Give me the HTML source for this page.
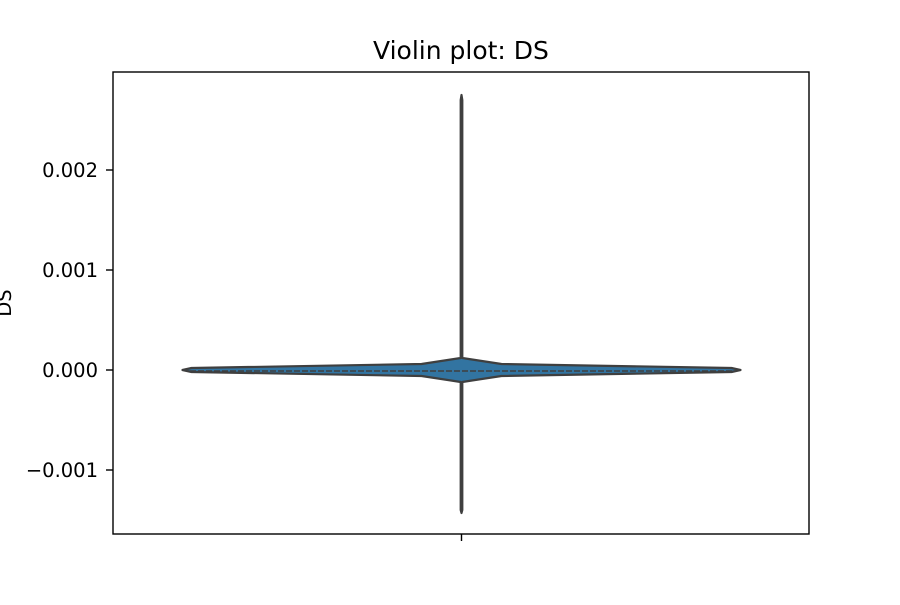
<!DOCTYPE html>
<html><head><meta charset="utf-8"><style>
body{margin:0;background:#fff;}
svg text{font-family:"DejaVu Sans","Liberation Sans",sans-serif;}
</style></head><body>
<svg width="900" height="600">
<rect width="900" height="600" fill="#fff"/>
<text x="461" y="59" style="font-size:25px" text-anchor="middle">Violin plot: DS</text>
<g id="plot"></g>
<rect x="113" y="72" width="696" height="462" fill="none" stroke="#000" stroke-width="1.4"/>
<g id="axes"></g>
<text transform="translate(11,303) rotate(-90)" style="font-size:19.5px" text-anchor="middle">DS</text>
</svg>
<script>
const yTicks=[0.002,0.001,0.000,-0.001];
const yTickLabels=["0.002","0.001","0.000","\u22120.001"];
const densVals=[0.00275,0.0027,0.00012,0.00006,0.00002,0.0,-0.00002,-0.00006,-0.00012,-0.0014,-0.00143];
const densHalf=[0,0.8,0.8,40,270,279,270,40,0.8,0.8,0];
const quartiles=[-0.00001];
const NS="http://www.w3.org/2000/svg";
const y=v=>370-v*100000;
const cx=461.5;
const plot=document.getElementById('plot'), axes=document.getElementById('axes');
let pts=[];
densVals.forEach((v,i)=>pts.push((cx+densHalf[i])+','+y(v)));
for(let i=densVals.length-1;i>=0;i--)pts.push((cx-densHalf[i])+','+y(densVals[i]));
const poly=document.createElementNS(NS,'polygon');
poly.setAttribute('points',pts.join(' '));
poly.setAttribute('fill','#3274a1');poly.setAttribute('stroke','#3f3f3f');poly.setAttribute('stroke-width','2.2');poly.setAttribute('stroke-linejoin','round');


plot.appendChild(poly);
quartiles.forEach(q=>{
 const l=document.createElementNS(NS,'line');
 l.setAttribute('x1',190);l.setAttribute('x2',733);l.setAttribute('y1',y(q));l.setAttribute('y2',y(q));
 l.setAttribute('stroke','#3f3f3f');l.setAttribute('stroke-width','1.5');l.setAttribute('stroke-dasharray','6 2');
 
 
 plot.appendChild(l);
});
yTicks.forEach((t,i)=>{
 const l=document.createElementNS(NS,'line');
 l.setAttribute('x1',106);l.setAttribute('x2',113);l.setAttribute('y1',y(t));l.setAttribute('y2',y(t));l.setAttribute('stroke','#000');l.setAttribute('stroke-width','1.4');
 
 
 axes.appendChild(l);
 const tx=document.createElementNS(NS,'text');
 tx.setAttribute('x',98);tx.setAttribute('y',y(t)+7);tx.setAttribute('style','font-size:19.5px');tx.setAttribute('text-anchor','end');
 tx.textContent=yTickLabels[i];
 
 
 axes.appendChild(tx);
});
const xt=document.createElementNS(NS,'line');
xt.setAttribute('x1',cx);xt.setAttribute('x2',cx);xt.setAttribute('y1',534);xt.setAttribute('y2',541);xt.setAttribute('stroke','#000');xt.setAttribute('stroke-width','1.4');


axes.appendChild(xt);
</script>
</body></html>
